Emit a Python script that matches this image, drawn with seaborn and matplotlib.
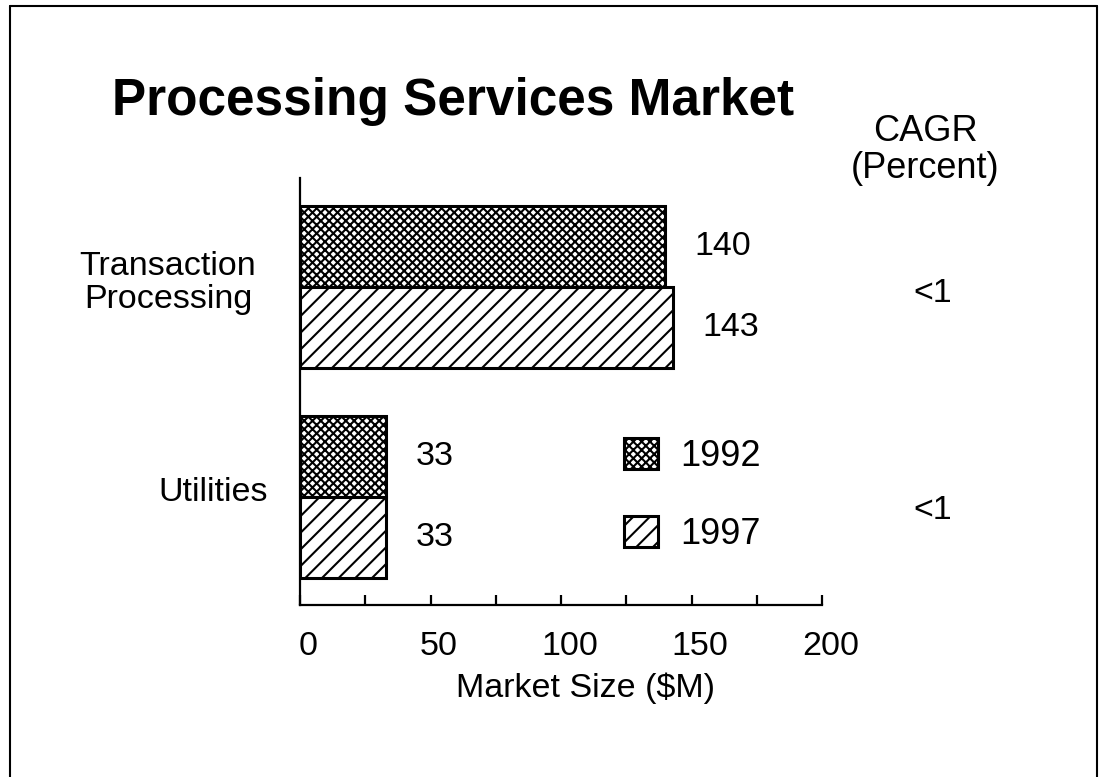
import matplotlib
matplotlib.use("Agg")
import matplotlib.pyplot as plt
import matplotlib.transforms as mtransforms
from matplotlib.lines import Line2D
import seaborn as sns
import pandas as pd

# Chart data
categories = ["Transaction\nProcessing", "Utilities"]
years = ["1992", "1997"]
size_1992 = [140, 33]
size_1997 = [143, 33]
cagr = ["<1", "<1"]
x_ticks = [0, 50, 100, 150, 200]

df = pd.DataFrame({
    "segment": categories * 2,
    "year": [years[0]] * len(categories) + [years[1]] * len(categories),
    "size": size_1992 + size_1997,
})

sns.set_theme(style="white")
plt.rcParams["font.family"] = ["Liberation Sans", "DejaVu Sans"]
plt.rcParams["hatch.linewidth"] = 1.5
plt.rcParams["hatch.color"] = "black"
plt.rcParams["text.color"] = "black"

FS = 24.5
fig = plt.figure(figsize=(11.03, 7.77), dpi=100)
fig.patch.set_facecolor("white")
ax = fig.add_axes([300 / 1103, 1 - 605 / 777, 522 / 1103, (605 - 178) / 777])

sns.barplot(data=df, y="segment", x="size", hue="year", orient="h",
            order=categories, hue_order=years, width=0.77,
            palette=["white", "white"], edgecolor="black", linewidth=2.2,
            saturation=1, ax=ax, legend=False)

hatches = ["xxxx", "//"]
for cont, h in zip(ax.containers, hatches):
    for bar in cont:
        bar.set_hatch(h)
        bar.set_facecolor("white")
        bar.set_edgecolor("black")
    ax.bar_label(cont, padding=21, fontsize=FS, color="black")

ax.set_xlim(0, 200)
ax.set_ylim(1.514, -0.519)
ax.set_xticks(x_ticks)
ax.set_xticks([25, 75, 125, 175], minor=True)
ax.tick_params(axis="x", which="both", direction="in", length=7, width=1.6,
               color="black", bottom=True, labelsize=FS, pad=19, labelcolor="black")
ax.tick_params(axis="y", left=False, labelleft=False)
offset = mtransforms.ScaledTranslation(6 / 72, 0, fig.dpi_scale_trans)
for lab in ax.get_xticklabels():
    lab.set_transform(lab.get_transform() + offset)

for side in ["top", "right"]:
    ax.spines[side].set_visible(False)
for side in ["left", "bottom"]:
    ax.spines[side].set_color("black")
    ax.spines[side].set_linewidth(1.6)
ax.set_ylabel("")
ax.set_xlabel("Market Size ($M)", fontsize=FS, color="black")
ax.xaxis.set_label_coords((586 - 300) / 522, -0.157)
ax.patch.set_alpha(0)

# Category labels to the left of the axis
label_x = [-0.253, -0.167]
for i, (cat, lx) in enumerate(zip(categories, label_x)):
    ax.text(lx, i - 0.02, cat, transform=ax.get_yaxis_transform(),
            ha="center", va="center", fontsize=FS, linespacing=1.08,
            multialignment="center", color="black")

# CAGR column
ax.text((925 - 300) / 522, -0.652, "CAGR\n(Percent)", transform=ax.get_yaxis_transform(),
        ha="center", va="center", fontsize=26, linespacing=1.05, color="black")
for i, v in enumerate(cagr):
    ax.text(1.213, i + (0.03 if i == 0 else 0.065), v, transform=ax.get_yaxis_transform(),
            ha="center", va="center", fontsize=FS, color="black")

# Legend
handles = [plt.Rectangle((0, 0), 1, 1, facecolor="white", edgecolor="black",
                         linewidth=2.2, hatch=h) for h in hatches]
fig.legend(handles, years, loc="upper left", bbox_to_anchor=(624 / 1103, 1 - 438 / 777),
           frameon=False, fontsize=26, handlelength=0.95, handleheight=0.95,
           handletextpad=0.6, labelspacing=1.15, borderpad=0, borderaxespad=0,
           labelcolor="black")

fig.text(453 / 1103, 1 - 101 / 777, "Processing Services Market", ha="center",
         va="center", fontsize=37, fontweight="bold", color="black")

# Page frame
frame_kw = dict(color="black", linewidth=1.5, transform=fig.transFigure)
fig.add_artist(Line2D([10 / 1103, 10 / 1103], [0, 1 - 6 / 777], **frame_kw))
fig.add_artist(Line2D([1097 / 1103, 1097 / 1103], [0, 1 - 6 / 777], **frame_kw))
fig.add_artist(Line2D([10 / 1103, 1097 / 1103], [1 - 6 / 777, 1 - 6 / 777], **frame_kw))

fig.savefig("out.png", dpi=100, facecolor="white")
